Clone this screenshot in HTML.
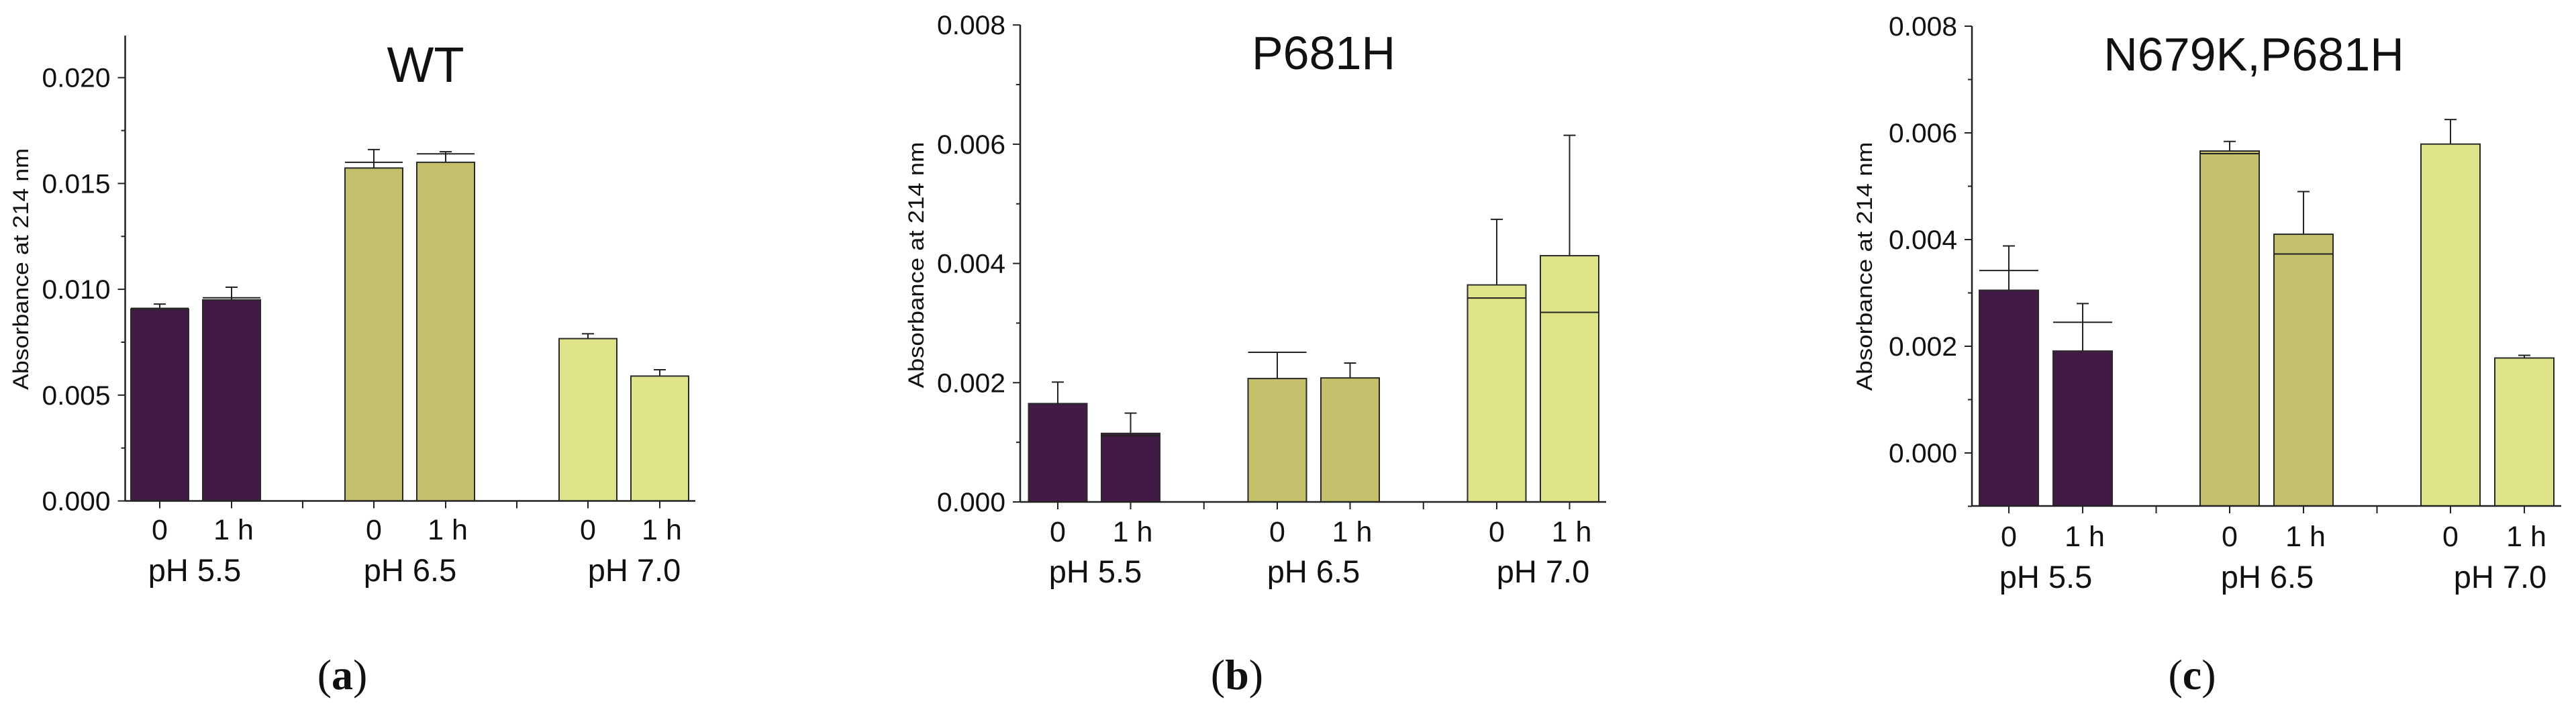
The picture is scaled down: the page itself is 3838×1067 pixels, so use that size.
<!DOCTYPE html>
<html><head><meta charset="utf-8">
<style>
html,body{margin:0;padding:0;background:#fff;}
svg{display:block;}
text{font-family:"Liberation Sans",Arial,sans-serif;fill:#111;}
</style></head>
<body>
<svg id="fig" width="3838" height="1067" viewBox="0 0 3838 1067" xmlns="http://www.w3.org/2000/svg"></svg>
<script>
// ---- data ----
const categories = ["0","1 h","0","1 h","0","1 h"];
const groupLabels = ["pH 5.5","pH 6.5","pH 7.0"];
const colors = ["#421a46","#421a46","#c4c06c","#c4c06c","#dfe38a","#dfe38a"];

const wtValues = [0.00906, 0.0095, 0.01573, 0.0160, 0.00767, 0.0059];
const wtErrTop = [0.0093, 0.0101, 0.0166, 0.0165, 0.0079, 0.0062];
const wtLine   = [0.0091, 0.0096, 0.0160, 0.0164, null, null];
const wtTicks  = ["0.000","0.005","0.010","0.015","0.020"];

const p681Values = [0.00165, 0.00115, 0.00207, 0.00208, 0.00364, 0.00413];
const p681ErrTop = [0.00201, 0.00149, 0.00251, 0.00233, 0.00474, 0.00615];
const p681Line   = [null, 0.00111, 0.00251, null, 0.00342, 0.00318];
const p681Ticks  = ["0.000","0.002","0.004","0.006","0.008"];

const dblValues = [0.00305, 0.00191, 0.00566, 0.0041, 0.00579, 0.00178];
const dblErrTop = [0.00388, 0.0028, 0.00584, 0.0049, 0.00625, 0.00183];
const dblLine   = [0.00342, 0.00245, 0.00561, 0.00373, null, null];
const dblTicks  = ["0.000","0.002","0.004","0.006","0.008"];

// ---- layout ----
const panels = [
  {key:"wt", title:"WT", letter:"a", values:wtValues, err:wtErrTop, line:wtLine, ticks:wtTicks, tickStep:0.005, minorStep:0.0025,
   axisX:186.5, axisTop:53, y0px:746.5, y0val:0, pxPerUnit:157.7/0.005, baseY:746.5, axisRight:1036,
   x0:238, inner:107, gap:319, barW:86, titleX:634, titleY:122, titleSize:74, ytX:31, ytY:401, ytLen:360,
   catY:804, grpY:866, grpX:[290,611,945], letterX:510},
  {key:"p681h", title:"P681H", letter:"b", values:p681Values, err:p681ErrTop, line:p681Line, ticks:p681Ticks, tickStep:0.002, minorStep:0.001,
   axisX:1520, axisTop:37, y0px:748, y0val:0, pxPerUnit:177.7/0.002, baseY:748, axisRight:2393,
   x0:1576, inner:108.5, gap:327, barW:87, titleX:1972, titleY:103, titleSize:70, ytX:1365, ytY:395, ytLen:367,
   catY:807, grpY:868, grpX:[1632,1957,2299], letterX:1843},
  {key:"n679k-p681h", title:"N679K,P681H", letter:"c", values:dblValues, err:dblErrTop, line:dblLine, ticks:dblTicks, tickStep:0.002, minorStep:0.001,
   axisX:2938, axisTop:39, y0px:675, y0val:0, pxPerUnit:159/0.002, baseY:754, axisRight:3816,
   x0:2993, inner:110, gap:329, barW:88, titleX:3358, titleY:105, titleSize:70, ytX:2778, ytY:397, ytLen:371,
   catY:814, grpY:876, grpX:[3048,3378,3725], letterX:3266}
];

const NS = "http://www.w3.org/2000/svg";
const svg = document.getElementById("fig");
function mk(tag, attrs, parent){
  const e = document.createElementNS(NS, tag);
  for (const k in attrs) e.setAttribute(k, attrs[k]);
  (parent||svg).appendChild(e);
  return e;
}

panels.forEach(p => {
  const g = mk("g", {});
  
  
  const yS = v => p.y0px - (v - p.y0val) * p.pxPerUnit;
  const xS = i => p.x0 + Math.floor(i/2)*p.gap + (i%2)*p.inner;

  // bars
  p.values.forEach((v,i) => {
    const cx = xS(i), top = yS(v);
    const r = mk("rect", {x:cx-p.barW/2, y:top, width:p.barW, height:p.baseY-top, fill:colors[i], stroke:"#2a2a2a", "stroke-width":2}, g);
    
    
    // error bar
    const et = yS(p.err[i]);
    const e1 = mk("line", {x1:cx, x2:cx, y1:top, y2:et, stroke:"#222", "stroke-width":2}, g);
    
    
    mk("line", {x1:cx-9, x2:cx+9, y1:et, y2:et, stroke:"#222", "stroke-width":2}, g);
    if (p.line[i] !== null) {
      const ly = yS(p.line[i]);
      const l = mk("line", {x1:cx-p.barW/2, x2:cx+p.barW/2, y1:ly, y2:ly, stroke:"#222", "stroke-width":2}, g);
      
      
    }
  });

  // axes
  const ya = mk("line", {x1:p.axisX, x2:p.axisX, y1:p.axisTop, y2:p.baseY, stroke:"#222", "stroke-width":2.5}, g);
  
  
  const xa = mk("line", {x1:p.axisX, x2:p.axisRight, y1:p.baseY, y2:p.baseY, stroke:"#222", "stroke-width":2.5}, g);
  
  

  // y ticks
  p.ticks.forEach((t,k) => {
    const v = k * p.tickStep, y = yS(v);
    mk("line", {x1:p.axisX-11, x2:p.axisX, y1:y, y2:y, stroke:"#222", "stroke-width":2}, g);
    const tx = mk("text", {x:p.axisX-22, y:y+14, "font-size":40, "text-anchor":"end", textLength:102, lengthAdjust:"spacingAndGlyphs"}, g);
    tx.textContent = t;
    
    
    const mv = v + p.minorStep, my = yS(mv);
    if (k < p.ticks.length-1) mk("line", {x1:p.axisX-6, x2:p.axisX, y1:my, y2:my, stroke:"#222", "stroke-width":2}, g);
  });
  if (p.key === "n679k-p681h") { const my = yS(-p.minorStep); mk("line", {x1:p.axisX-6, x2:p.axisX, y1:my, y2:my, stroke:"#222", "stroke-width":2}, g); }

  // x ticks & labels
  categories.forEach((c,i) => {
    const cx = xS(i);
    mk("line", {x1:cx, x2:cx, y1:p.baseY, y2:p.baseY+11, stroke:"#222", "stroke-width":2}, g);
    const t = mk("text", {x:cx + (i%2 ? 3 : 0), y:p.catY, "font-size":43, "text-anchor":"middle"}, g);
    t.textContent = c;
    
    
  });
  [0,1].forEach(j => {
    const sx = (xS(2*j+1) + xS(2*j+2))/2;
    mk("line", {x1:sx, x2:sx, y1:p.baseY, y2:p.baseY+11, stroke:"#222", "stroke-width":2}, g);
  });
  groupLabels.forEach((gl,j) => {
    const t = mk("text", {x:p.grpX[j], y:p.grpY, "font-size":47, "text-anchor":"middle"}, g);
    t.textContent = gl;
    
    
  });

  // titles
  const tt = mk("text", {x:p.titleX, y:p.titleY, "font-size":p.titleSize, "text-anchor":"middle"}, g);
  tt.textContent = p.title;
  
  
  const yt = mk("text", {x:0, y:0, "font-size":32, "text-anchor":"middle", textLength:p.ytLen, lengthAdjust:"spacingAndGlyphs",
    transform:`translate(${p.ytX+11},${p.ytY}) rotate(-90)`}, g);
  yt.textContent = "Absorbance at 214 nm";
  
  
  const lt = mk("text", {x:p.letterX, y:1027, "font-size":64, "text-anchor":"middle", style:"font-family:'Liberation Serif',serif"}, g);
  lt.innerHTML = '(<tspan font-weight="bold">' + p.letter + '</tspan>)';
  
  
});
</script>
</body></html>
